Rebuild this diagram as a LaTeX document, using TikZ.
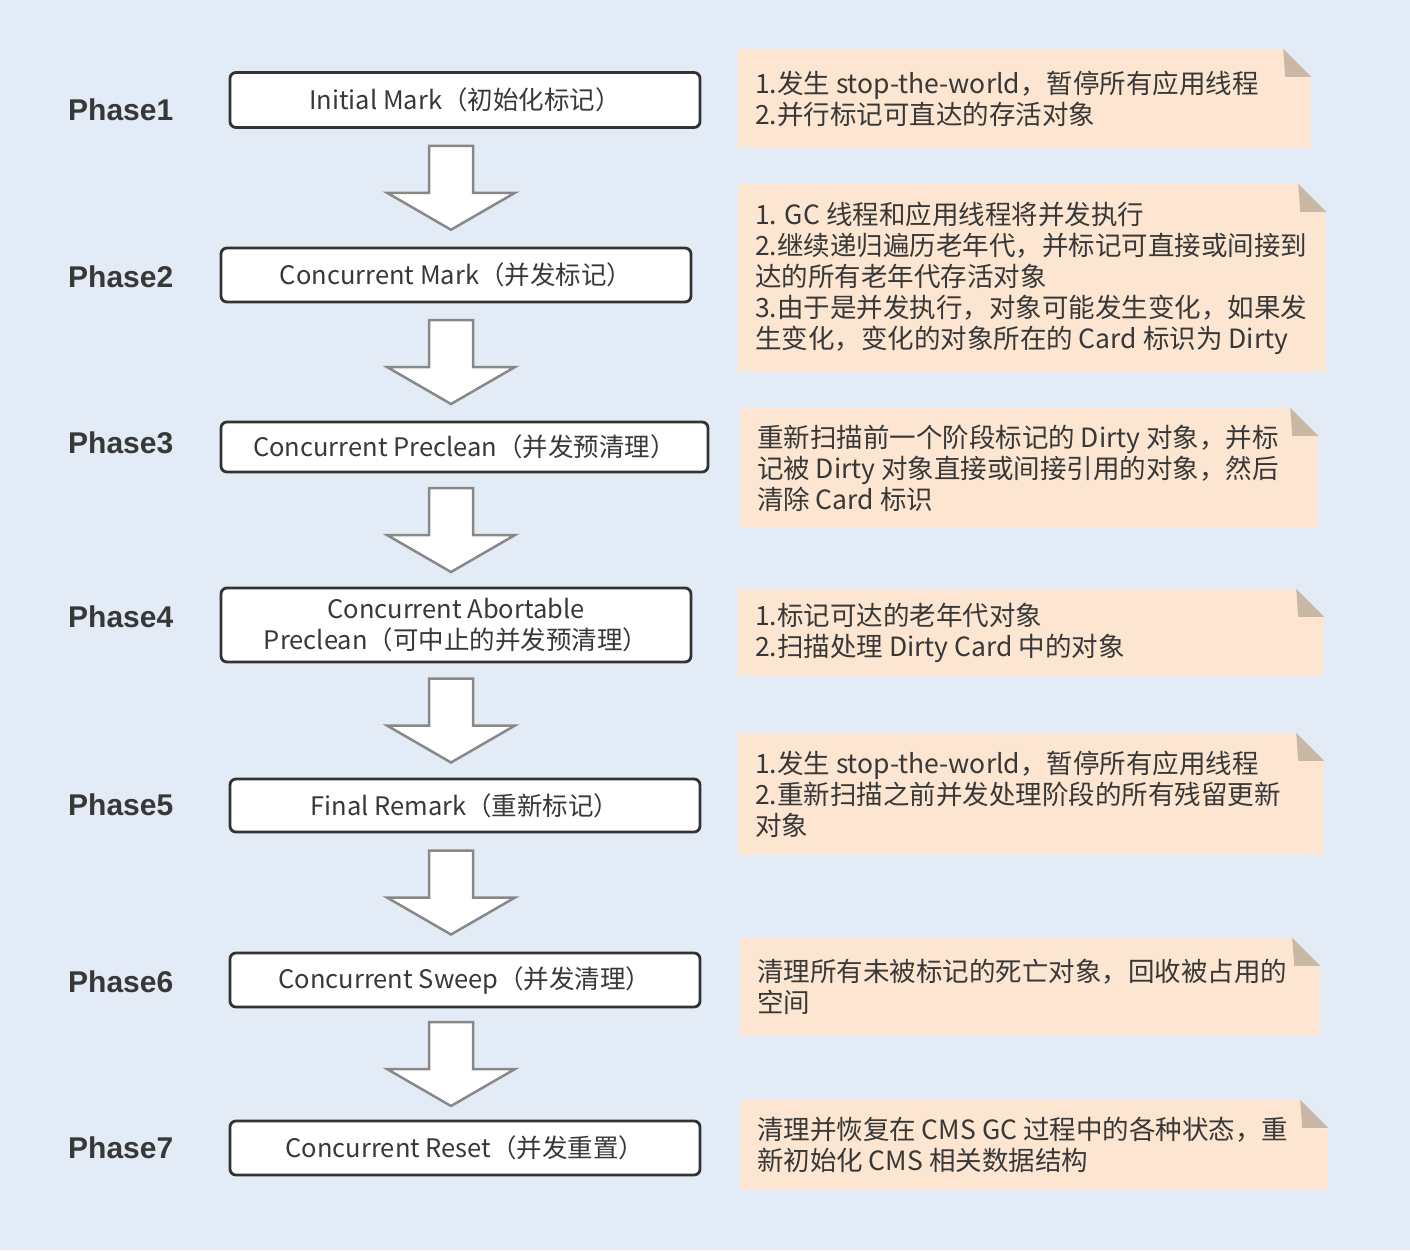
\documentclass[tikz,border=0pt]{standalone}
\usepackage{fontspec}
\setmainfont{Noto Sans CJK SC}
\newfontfamily\phasefont{Liberation Sans}
\usetikzlibrary{calc}
\definecolor{bgblue}{HTML}{E3EBF6}
\definecolor{notepeach}{HTML}{FCE6D2}
\definecolor{foldtan}{HTML}{C9B8A6}
\definecolor{boxline}{HTML}{333333}
\definecolor{arrowline}{HTML}{888888}
\definecolor{txtgray}{HTML}{383838}
\tikzset{
  stage/.style={draw=boxline, line width=2.8pt, fill=white, rounded corners=6pt, text=txtgray,
    align=center, font=\fontsize{25.5}{31}\selectfont, minimum width=470pt, inner sep=0pt},
  note/.style={fill=notepeach, inner sep=0pt},
  notetext/.style={anchor=west, align=left, text=txtgray, font=\fontsize{26.5}{31}\selectfont, inner sep=0pt},
  phase/.style={anchor=west, text=txtgray, font=\phasefont\bfseries\fontsize{30}{36}\selectfont, inner sep=0pt},
  hollow/.style={draw=arrowline, line width=2.5pt, fill=white, line join=miter},
  downarrow/.pic={\path[hollow] (-22,-42) -- (22,-42) -- (22,5) -- (64,5) -- (0,42) -- (-64,5) -- (-22,5) -- cycle;}
}
\begin{document}
\begin{tikzpicture}[x=1pt, y=-1pt]
    \fill[bgblue] (0,0) rectangle (1410,1250);
    \useasboundingbox (0,0) rectangle (1410,1250);
    % stages
    \node[stage, minimum height=55pt] (s1) at (465,100) {Initial Mark（初始化标记）};
    \node[stage, minimum height=54pt] (s2) at (456,275) {Concurrent Mark（并发标记）};
    \node[stage, minimum height=50pt, minimum width=487pt] (s3) at (464.5,447) {Concurrent Preclean（并发预清理）};
    \node[stage, minimum height=74pt] (s4) at (456,625) {Concurrent Abortable\\Preclean（可中止的并发预清理）};
    \node[stage, minimum height=53pt] (s5) at (465,805.5) {Final Remark（重新标记）};
    \node[stage, minimum height=54pt] (s6) at (465,980) {Concurrent Sweep（并发清理）};
    \node[stage, minimum height=54pt] (s7) at (465,1148) {Concurrent Reset（并发重置）};
    \foreach \i/\j in {1/2,2/3,3/4,4/5,5/6,6/7} {
        \coordinate (m\i) at ($(s\i.south)!0.5!(s\j.north)$);
        \pic at (451,0 |- m\i) {downarrow};
    }
    % phase labels
    \foreach \i/\y in {1/110,2/277,3/443,4/617,5/805,6/982,7/1148}
        \node[phase] (p\i) at (68,\y) {Phase\i};
    % notes
    \foreach \i/\cx/\cy/\w/\h in {1/1024.5/98.5/573/99, 2/1032/278/588/188, 3/1029/468/578/120,
        4/1031/632.5/586/87, 5/1031/794/586/122, 6/1030/987/580/98, 7/1034/1145/588/90} {
        \node[note, minimum width=\w pt, minimum height=\h pt] (n\i) at (\cx,\cy) {};
        \fill[bgblue] (n\i.north east) -- ++(-28,0) -- ++(28,28) -- cycle;
        \fill[foldtan] ($(n\i.north east)+(-28,0)$) -- ++(28,28) -- ++(-26,0) -- cycle;
    }
    \node[notetext] (t1) at ([xshift=17pt]n1.west) {1.发生 stop-the-world，暂停所有应用线程\\2.并行标记可直达的存活对象};
    \node[notetext] (t2) at ([xshift=17pt]n2.west) {1. GC 线程和应用线程将并发执行\\2.继续递归遍历老年代，并标记可直接或间接到\\达的所有老年代存活对象\\3.由于是并发执行，对象可能发生变化，如果发\\生变化，变化的对象所在的 Card 标识为 Dirty};
    \node[notetext] (t3) at ([xshift=17pt]n3.west) {重新扫描前一个阶段标记的 Dirty 对象，并标\\记被 Dirty 对象直接或间接引用的对象，然后\\清除 Card 标识};
    \node[notetext] (t4) at ([xshift=17pt]n4.west) {1.标记可达的老年代对象\\2.扫描处理 Dirty Card 中的对象};
    \node[notetext] (t5) at ([xshift=17pt]n5.west) {1.发生 stop-the-world，暂停所有应用线程\\2.重新扫描之前并发处理阶段的所有残留更新\\对象};
    \node[notetext] (t6) at ([xshift=17pt]n6.west) {清理所有未被标记的死亡对象，回收被占用的\\空间};
    \node[notetext] (t7) at ([xshift=17pt]n7.west) {清理并恢复在 CMS GC 过程中的各种状态，重\\新初始化 CMS 相关数据结构};
\end{tikzpicture}
\end{document}
